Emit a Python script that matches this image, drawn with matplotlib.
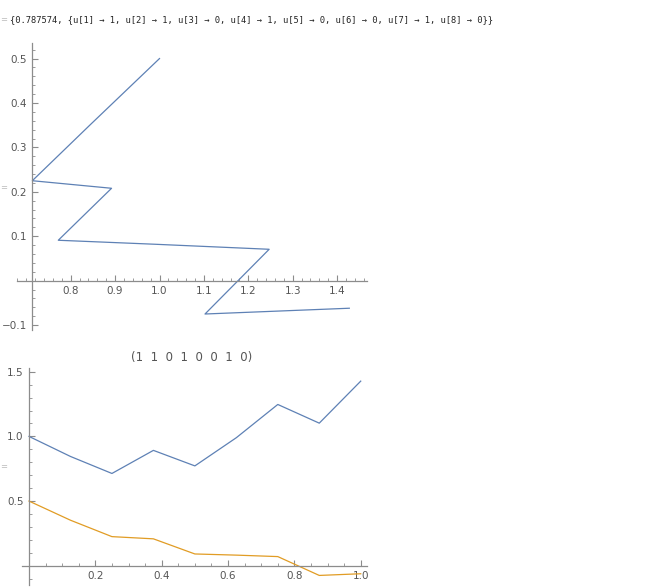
import numpy as np
import matplotlib
matplotlib.use("Agg")
import matplotlib.pyplot as plt
from matplotlib.ticker import MultipleLocator, FixedLocator

# control sequence u[1..8] and the two state curves
u_vals = [1, 1, 0, 1, 0, 0, 1, 0]
t_vals = [0.0, 0.125, 0.25, 0.375, 0.5, 0.625, 0.75, 0.875, 1.0]
x1_vals = [1.0, 0.845, 0.7135, 0.892, 0.772, 0.99, 1.247, 1.1025, 1.4275]
x2_vals = [0.5, 0.352, 0.225, 0.208, 0.091, 0.082, 0.0707, -0.075, -0.062]
cost = "0.787574"

blue = "#5E81B5"
orange = "#E19C24"
axis_col = "#8c8c8c"
lab_col = "#555555"

fig = plt.figure(figsize=(6.48, 5.88), dpi=100)

# header line like mathematica output
head = "{" + cost + ", {" + ", ".join(
    "u[%d] \u2192 %d" % (i + 1, v) for i, v in enumerate(u_vals)) + "}}"
fig.text(10 / 648, 1 - 20 / 588, head, fontsize=6.3, family="DejaVu Sans Mono",
         color="#222222", va="center", ha="left")
for yy in [20, 188, 467]:
    fig.text(0.5 / 648, 1 - yy / 588, "=", fontsize=6, color="#bbbbbb",
             va="center", ha="left")


def style(ax, xo, yo):
    for s in ["top", "right"]:
        ax.spines[s].set_visible(False)
    ax.spines["left"].set_position(("data", xo))
    ax.spines["bottom"].set_position(("data", yo))
    for s in ["left", "bottom"]:
        ax.spines[s].set_color(axis_col)
        ax.spines[s].set_linewidth(0.9)
    ax.tick_params(which="major", direction="in", length=4, width=0.8,
                   color=axis_col, labelcolor=lab_col, labelsize=7.5, pad=4)
    ax.tick_params(which="minor", direction="in", length=2.2, width=0.6,
                   color=axis_col)


# top: phase plot x2 vs x1
ax1 = fig.add_axes([17 / 648, 1 - 330 / 588, 349.7 / 648, 287 / 588])
ax1.plot(x1_vals, x2_vals, color=blue, lw=0.9)
ax1.set_xlim(0.679, 1.4667)
ax1.set_ylim(-0.111, 0.535)
style(ax1, 0.7135, 0)
ax1.xaxis.set_major_locator(FixedLocator([0.8, 0.9, 1.0, 1.1, 1.2, 1.3, 1.4]))
ax1.xaxis.set_minor_locator(MultipleLocator(0.02))
ax1.yaxis.set_major_locator(FixedLocator([-0.1, 0.1, 0.2, 0.3, 0.4, 0.5]))
ax1.yaxis.set_minor_locator(MultipleLocator(0.02))
ax1.set_xticklabels(["0.8", "0.9", "1.0", "1.1", "1.2", "1.3", "1.4"])
ax1.set_yticklabels(["\u22120.1", "0.1", "0.2", "0.3", "0.4", "0.5"])

# bottom: both states vs time
ax2 = fig.add_axes([21.7 / 648, 3 / 588, 345 / 648, 217 / 588])
ax2.plot(t_vals, x1_vals, color=blue, lw=0.9)
ax2.plot(t_vals, x2_vals, color=orange, lw=0.9)
ax2.set_xlim(-0.022, 1.018)
ax2.set_ylim(-0.149, 1.529)
style(ax2, 0, 0)
ax2.xaxis.set_major_locator(FixedLocator([0.2, 0.4, 0.6, 0.8, 1.0]))
ax2.xaxis.set_minor_locator(MultipleLocator(0.05))
ax2.yaxis.set_major_locator(FixedLocator([0.5, 1.0, 1.5]))
ax2.yaxis.set_minor_locator(MultipleLocator(0.1))
ax2.set_xticklabels(["0.2", "0.4", "0.6", "0.8", "1.0"])
ax2.set_yticklabels(["0.5", "1.0", "1.5"])

fig.text(192 / 648, 1 - 357 / 588,
         "(" + "  ".join(str(v) for v in u_vals) + ")",
         fontsize=8.5, color=lab_col, ha="center", va="center")

fig.savefig("out.png", dpi=100)
